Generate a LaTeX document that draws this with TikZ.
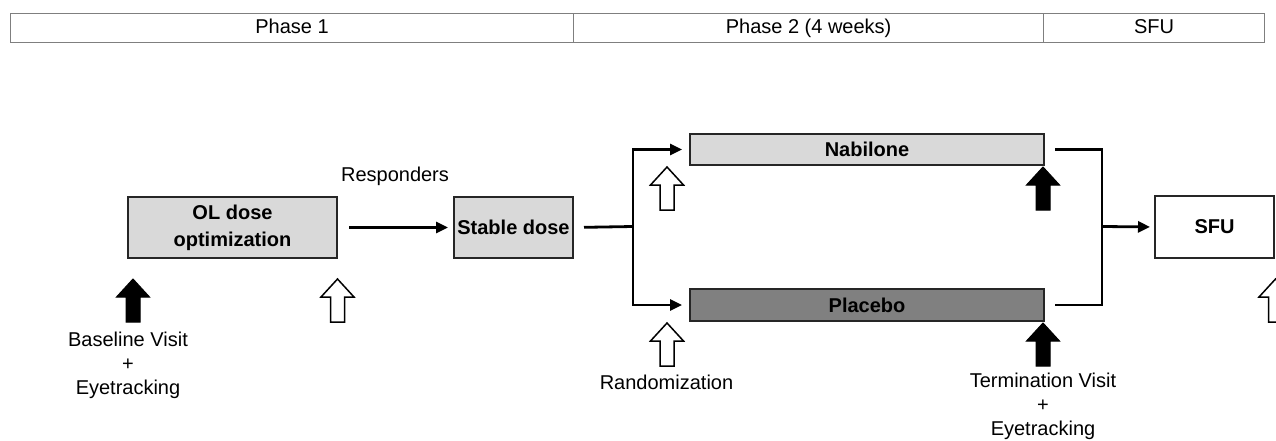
\documentclass[tikz,border=0pt]{standalone}
\usepackage{fontspec}
\setmainfont{Liberation Sans}
\usetikzlibrary{arrows.meta}
\definecolor{lightbox}{HTML}{D9D9D9}
\definecolor{darkbox}{HTML}{808080}
\definecolor{barline}{HTML}{7F7F7F}
\tikzset{
  txt/.style={font=\fontsize{20}{24}\selectfont, align=center, inner sep=0pt},
  phasecell/.style={draw=barline, line width=1.2pt, minimum height=29pt, inner sep=0pt,
    text height=14pt, text depth=4pt,
    font=\fontsize{20}{24}\selectfont, anchor=north west},
  stepbox/.style={draw=black!85, line width=2pt, inner sep=0pt, align=center,
    font=\bfseries\fontsize{20}{27}\selectfont, anchor=north west},
  flow/.style={line width=2.8pt, -{Triangle[length=12pt,width=11pt]}},
  plainline/.style={line width=2.8pt, line join=miter},
  uparr/.pic={\path[pic actions] (-7,0) -- (-7,-25) -- (-16.5,-25) -- (0,-43) -- (16.5,-25) -- (7,-25) -- (7,0) -- cycle;},
  fullarr/.style={fill=black, draw=black, line width=1pt},
  openarr/.style={fill=white, draw=black, line width=1.5pt},
}
\begin{document}
\begin{tikzpicture}[x=1pt,y=-1pt]
\clip (0,0) rectangle (1276,441);
\fill[white] (0,0) rectangle (1276,441);

% phase bar
\node[phasecell, minimum width=563pt] (p1) at (10,13) {Phase 1};
\node[phasecell, minimum width=470pt] (p2) at (573,13) {Phase 2 (4 weeks)};
\node[phasecell, minimum width=221pt] (p3) at (1043,13) {SFU};

% boxes
\node[stepbox, fill=lightbox, minimum width=209pt, minimum height=61pt] (ol) at (127,196) {OL dose\\optimization};
\node[stepbox, fill=lightbox, minimum width=119pt, minimum height=61pt] (stable) at (453,196) {Stable dose};
\node[stepbox, fill=lightbox, minimum width=354pt, minimum height=31pt] (nab) at (689,133) {Nabilone};
\node[stepbox, fill=darkbox, minimum width=354pt, minimum height=32pt] (plac) at (689,288) {Placebo};
\node[stepbox, fill=white, minimum width=119pt, minimum height=62pt] (sfu) at (1154,195) {SFU};

% connectors
\coordinate (split) at (633,226.5);
\coordinate (join) at (1102,226.5);
\draw[flow, shorten <=11pt, shorten >=5pt] (ol.east) -- (stable.west);
\draw[plainline, shorten <=10pt] (stable.east) -- (split);
\draw[flow, shorten >=7pt] (split) |- (nab.west);
\draw[flow, shorten >=7pt] (split) |- (plac.west);
\draw[plainline, shorten <=10pt] (nab.east) -| (join);
\draw[plainline, shorten <=10pt] (plac.east) -| (join);
\draw[flow, shorten >=4pt] (join) -- (sfu.west);

% block arrows
\pic[fullarr] at (133,322) {uparr};
\pic[openarr] at (337.5,322) {uparr};
\pic[openarr] at (667,210) {uparr};
\pic[openarr] at (667,366) {uparr};
\pic[fullarr] at (1043,210) {uparr};
\pic[fullarr] at (1043,366) {uparr};
\pic[openarr] at (1275.5,322) {uparr};

% labels
\node[txt] (resp) at (395,176) {Responders};
\node[txt] (base) at (128,365) {Baseline Visit\\+\\Eyetracking};
\node[txt] (rand) at (666.5,382) {Randomization};
\node[txt] (term) at (1043,406) {Termination Visit\\+\\Eyetracking};
\end{tikzpicture}
\end{document}
